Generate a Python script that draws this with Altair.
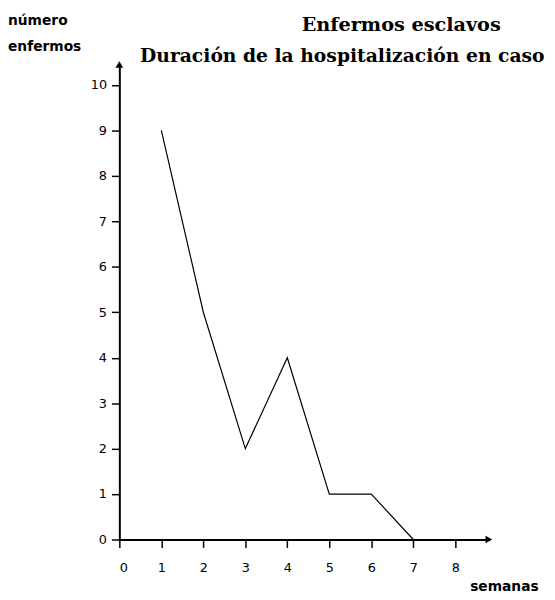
import altair as alt
import pandas as pd

semanas = [1, 2, 3, 4, 5, 6, 7]
enfermos = [9, 5, 2, 4, 1, 1, 0]
x_ticks = [0, 1, 2, 3, 4, 5, 6, 7, 8]
y_ticks = [0, 1, 2, 3, 4, 5, 6, 7, 8, 9, 10]
titulo1 = "Enfermos  esclavos"
titulo2 = "Duración de la hospitalización  en caso"
eje_y = ["número", "enfermos"]
eje_x = "semanas"

X_MAX = 8.8
Y_MAX = 10.45

df = pd.DataFrame({"semanas": semanas, "enfermos": enfermos})
arrows = pd.DataFrame({"x": [0, X_MAX], "y": [Y_MAX, 0], "shape": ["triangle-up", "triangle-right"]})

xs = alt.Scale(domain=[0, X_MAX], nice=False, zero=True)
ys = alt.Scale(domain=[0, Y_MAX], nice=False, zero=True)

axis_common = dict(
    domainColor="black", domainWidth=2, tickColor="black", tickWidth=1.5,
    tickSize=8, labelFont="DejaVu Sans", labelFontSize=13, labelColor="black",
    grid=False, title=None,
)

line = alt.Chart(df).mark_line(color="black", strokeWidth=1.2).encode(
    x=alt.X("semanas:Q", scale=xs,
            axis=alt.Axis(values=x_ticks, labelPadding=14, **axis_common)),
    y=alt.Y("enfermos:Q", scale=ys,
            axis=alt.Axis(values=y_ticks, labelPadding=5, **axis_common)),
)

heads = alt.Chart(arrows).mark_point(filled=True, color="black", size=60, opacity=1).encode(
    x=alt.X("x:Q", scale=xs),
    y=alt.Y("y:Q", scale=ys),
    shape=alt.Shape("shape:N", scale=None),
)

def label(txt, x, y, font, size, weight="normal", align="left"):
    return alt.Chart(pd.DataFrame({"t": [txt]})).mark_text(
        font=font, fontSize=size, fontWeight=weight, align=align,
        baseline="alphabetic", color="black",
    ).encode(x=alt.value(x), y=alt.value(y), text="t:N")

texts = [
    label(titulo1, 286, -34, "DejaVu Serif", 19.5, "bold", "center"),
    label(titulo2, 21, -3, "DejaVu Serif", 19, "bold", "left"),
    label(eje_y[0], -113, -40, "DejaVu Sans", 14, "bold"),
    label(eje_y[1], -113, -14, "DejaVu Sans", 14, "bold"),
    label(eje_x, 356, 534, "DejaVu Sans", 14, "bold"),
]

chart = alt.layer(line, heads, *texts).properties(
    width=375, height=482,
    autosize=alt.AutoSizeParams(type="none"),
    padding={"left": 113, "top": 53, "right": 59, "bottom": 57},
).configure_view(stroke=None).configure_axis(domainCap="square")

chart.save("out.html", embed_options={"renderer": "svg", "actions": False})
